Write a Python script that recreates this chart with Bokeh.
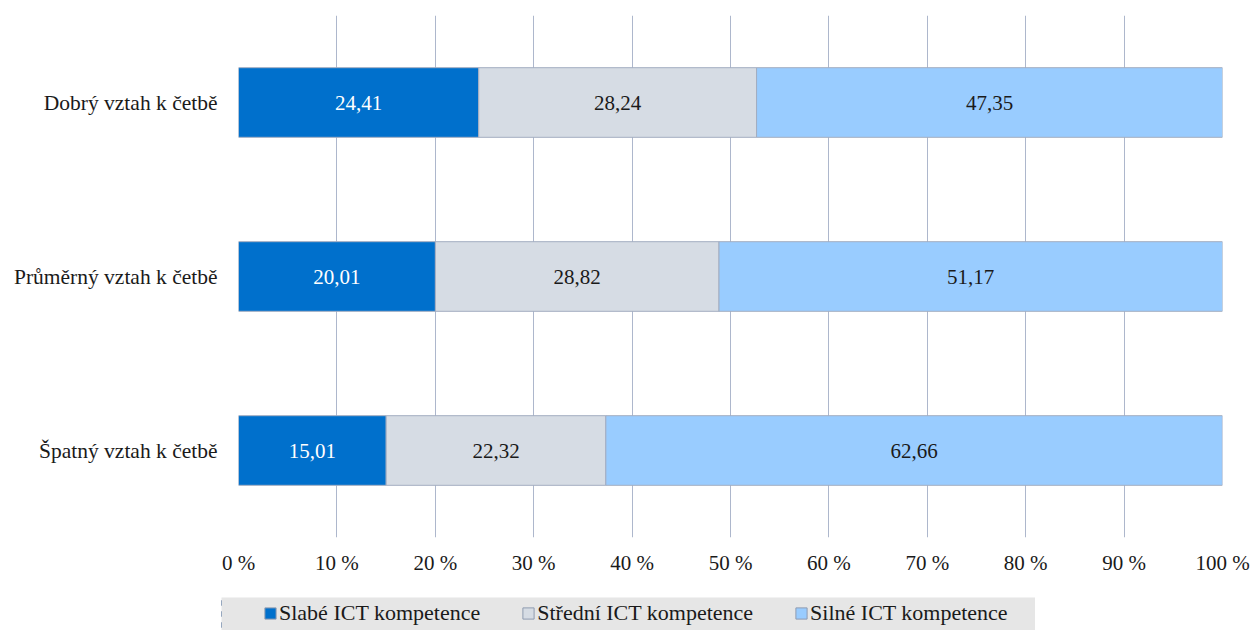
from bokeh.plotting import figure
from bokeh.layouts import column, row
from bokeh.models import ColumnDataSource, FactorRange, Range1d, Legend, LegendItem, FixedTicker, Spacer
from bokeh.core.properties import value
from bokeh.embed import file_html
from bokeh.resources import INLINE

# ---- data ----
categories = ["Dobrý vztah k četbě", "Průměrný vztah k četbě", "Špatný vztah k četbě"]
series_names = ["Slabé ICT kompetence", "Střední ICT kompetence", "Silné ICT kompetence"]
slabe = [24.41, 20.01, 15.01]
stredni = [28.24, 28.82, 22.32]
silne = [47.35, 51.17, 62.66]
tick_values = [0, 10, 20, 30, 40, 50, 60, 70, 80, 90, 100]
tick_labels = ["0 %", "10 %", "20 %", "30 %", "40 %", "50 %", "60 %", "70 %", "80 %", "90 %", "100 %"]

colors = ["#0070cc", "#d6dce4", "#99ccff"]
label_colors = ["#ffffff", "#1a1a1a", "#1a1a1a"]
FONT = "Liberation Serif"

keys = ["slabe", "stredni", "silne"]
src = ColumnDataSource(dict(cat=categories, slabe=slabe, stredni=stredni, silne=silne))

p = figure(width=1252, height=597, output_backend="svg", toolbar_location=None,
           y_range=FactorRange(*list(reversed(categories))), x_range=Range1d(0, 100),
           min_border_left=238, min_border_right=30, min_border_top=15, min_border_bottom=60)
p.outline_line_color = None
p.background_fill_color = "white"
p.border_fill_color = "white"

p.hbar_stack(keys, y="cat", height=0.4, source=src, color=colors,
             line_color="#a3adc0", line_width=1)

# data labels
lx, ly, lt, lc = [], [], [], []
series = [slabe, stredni, silne]
for i, c in enumerate(categories):
    left = 0.0
    for s, col in zip(series, label_colors):
        v = s[i]
        lx.append(left + v / 2)
        ly.append(c)
        lt.append(f"{v:.2f}".replace(".", ","))
        lc.append(col)
        left += v
lsrc = ColumnDataSource(dict(x=lx, y=ly, t=lt, c=lc))
p.text(x="x", y="y", text="t", source=lsrc, text_color="c", text_align="center",
       text_baseline="middle", text_font=value(FONT), text_font_size="21px")

# grid
p.ygrid.grid_line_color = None
p.xgrid.ticker = FixedTicker(ticks=tick_values)
p.xgrid.grid_line_color = "#adb7cc"
p.xgrid.grid_line_width = 1

# axes
p.xaxis.ticker = FixedTicker(ticks=tick_values)
p.xaxis.major_label_overrides = {v: l for v, l in zip(tick_values, tick_labels)}
for ax in (p.xaxis, p.yaxis):
    ax.axis_line_color = None
    ax.major_tick_line_color = None
    ax.minor_tick_line_color = None
    ax.major_label_text_font = FONT
    ax.major_label_text_color = "#1a1a1a"
p.xaxis.major_label_text_font_size = "21px"
p.yaxis.major_label_text_font_size = "21.5px"
p.xaxis.major_label_standoff = 7
p.yaxis.major_label_standoff = 15

# ---- legend strip (separate small figure below the chart) ----
lg = figure(width=814, height=33, output_backend="svg", toolbar_location=None,
            x_range=Range1d(200, 300), y_range=FactorRange(*categories),
            min_border=0, x_axis_type=None, y_axis_type=None)
lg.outline_line_color = None
lg.background_fill_color = "#e6e6e6"
lg.border_fill_color = "#e6e6e6"
lg.grid.visible = False
lrend = lg.hbar_stack(keys, y="cat", height=0.4, source=src, color=colors,
                      line_color="#8f9bb0", line_width=1)

legend = Legend(items=[LegendItem(label=n, renderers=[r]) for n, r in zip(series_names, lrend)],
                orientation="horizontal", location=(42, 4), padding=0, margin=0,
                spacing=41, glyph_width=14, glyph_height=14, label_standoff=2,
                label_text_font=FONT, label_text_font_size="22px", label_text_color="#1a1a1a",
                background_fill_alpha=0, border_line_color=None)
lg.add_layout(legend)

layout = column(p, row(Spacer(width=221, height=33), lg))
open("out.html", "w").write(file_html(layout, INLINE))
